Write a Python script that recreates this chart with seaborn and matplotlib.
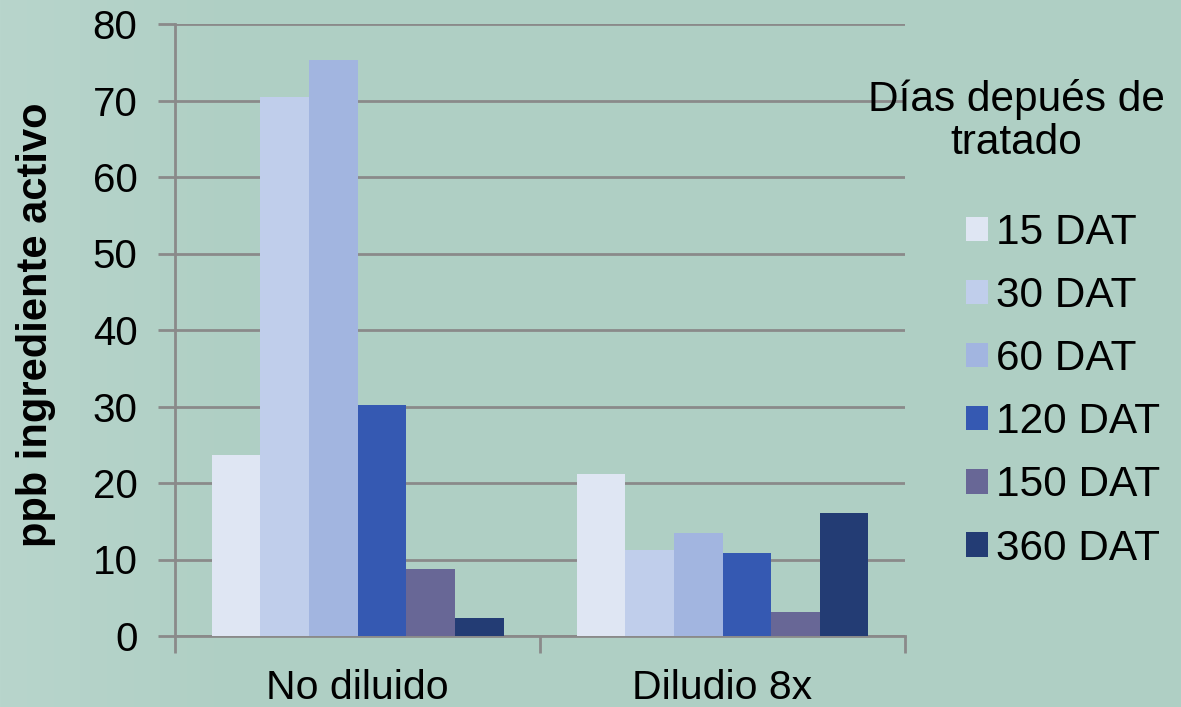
import numpy as np
import pandas as pd
import matplotlib
matplotlib.use("Agg")
import matplotlib.pyplot as plt
from matplotlib.colors import to_rgb
import seaborn as sns

# datos
grupos = ["No diluido", "Diludio 8x"]
dias = ["15 DAT", "30 DAT", "60 DAT", "120 DAT", "150 DAT", "360 DAT"]
no_diluido = [23.7, 70.5, 75.3, 30.2, 8.8, 2.4]
diludio_8x = [21.2, 11.3, 13.5, 10.8, 3.2, 16.1]
colores = ["#DFE6F3", "#C0CEEB", "#A2B5E0", "#3559B2", "#686796", "#233C74"]
y_ticks = [0, 10, 20, 30, 40, 50, 60, 70, 80]

df = pd.DataFrame({
    "grupo": [grupos[0]] * len(dias) + [grupos[1]] * len(dias),
    "dias": dias * 2,
    "ppb": no_diluido + diludio_8x,
})

sns.set_theme(style="white")
plt.rcParams["font.family"] = ["Liberation Sans", "DejaVu Sans"]

bg = "#AFCFC4"
gris = "#8A8A8A"

fig = plt.figure(figsize=(11.81, 7.07), dpi=100, facecolor=bg)

# fondo: un poco mas claro a la izquierda, como la diapositiva
fondo = fig.add_axes([0, 0, 1, 1], zorder=-10)
c0 = np.array(to_rgb("#B8D5CC"))
c1 = np.array(to_rgb(bg))
t = np.clip(np.linspace(0, 1181, 1181) / 240, 0, 1)[:, None]
grad = (c0 * (1 - t) + c1 * t)[None, :, :]
fondo.imshow(grad, aspect="auto", extent=[0, 1, 0, 1])
fondo.axis("off")

ax = fig.add_axes([175 / 1181, 71 / 707, 730 / 1181, 612 / 707])
ax.patch.set_alpha(0)

sns.barplot(data=df, x="grupo", y="ppb", hue="dias", hue_order=dias,
            palette=colores, width=0.8, saturation=1, ax=ax,
            edgecolor="none", linewidth=0, zorder=3)

ax.set_ylim(0, 80)
ax.set_xlim(-0.5, 1.5)
ax.set_yticks(y_ticks)
ax.yaxis.grid(True, color=gris, linewidth=2, zorder=0)
ax.set_axisbelow(True)
for s in ["top", "right"]:
    ax.spines[s].set_visible(False)
for s in ["left", "bottom"]:
    ax.spines[s].set_color(gris)
    ax.spines[s].set_linewidth(2)

ax.tick_params(axis="y", direction="out", length=12, width=2, color=gris,
               labelsize=29, pad=15, left=True)
ax.tick_params(axis="x", which="major", length=0, labelsize=29.5, pad=24)
ax.set_xticks([-0.5, 0.5, 1.5], minor=True)
ax.tick_params(axis="x", which="minor", direction="out", length=12, width=2,
               color=gris, bottom=True)
for lab in ax.get_yticklabels() + ax.get_xticklabels():
    lab.set_color("black")

ax.set_xlabel("")
ax.set_ylabel("")
fig.text(36.5 / 1181, 1 - 325 / 707, "ppb ingrediente activo", rotation=90,
         ha="center", va="center", fontsize=30, fontweight="bold", color="black")

# titulo de la leyenda aparte, centrado sobre dos lineas
fig.text(1016 / 1181, 1 - 121 / 707, "Días depués de\ntratado", ha="center",
         va="center", multialignment="center", fontsize=30.5, color="black",
         linespacing=1.1)

ax.legend(loc="upper right", bbox_to_anchor=(1198 / 1181, 1 - 175 / 707),
          bbox_transform=fig.transFigure, frameon=False, fontsize=30.5,
          handlelength=0.52, handleheight=0.5, handletextpad=0.17,
          labelspacing=0.545, borderpad=0.4, labelcolor="black")

fig.savefig("out.png", dpi=100, facecolor=bg)
